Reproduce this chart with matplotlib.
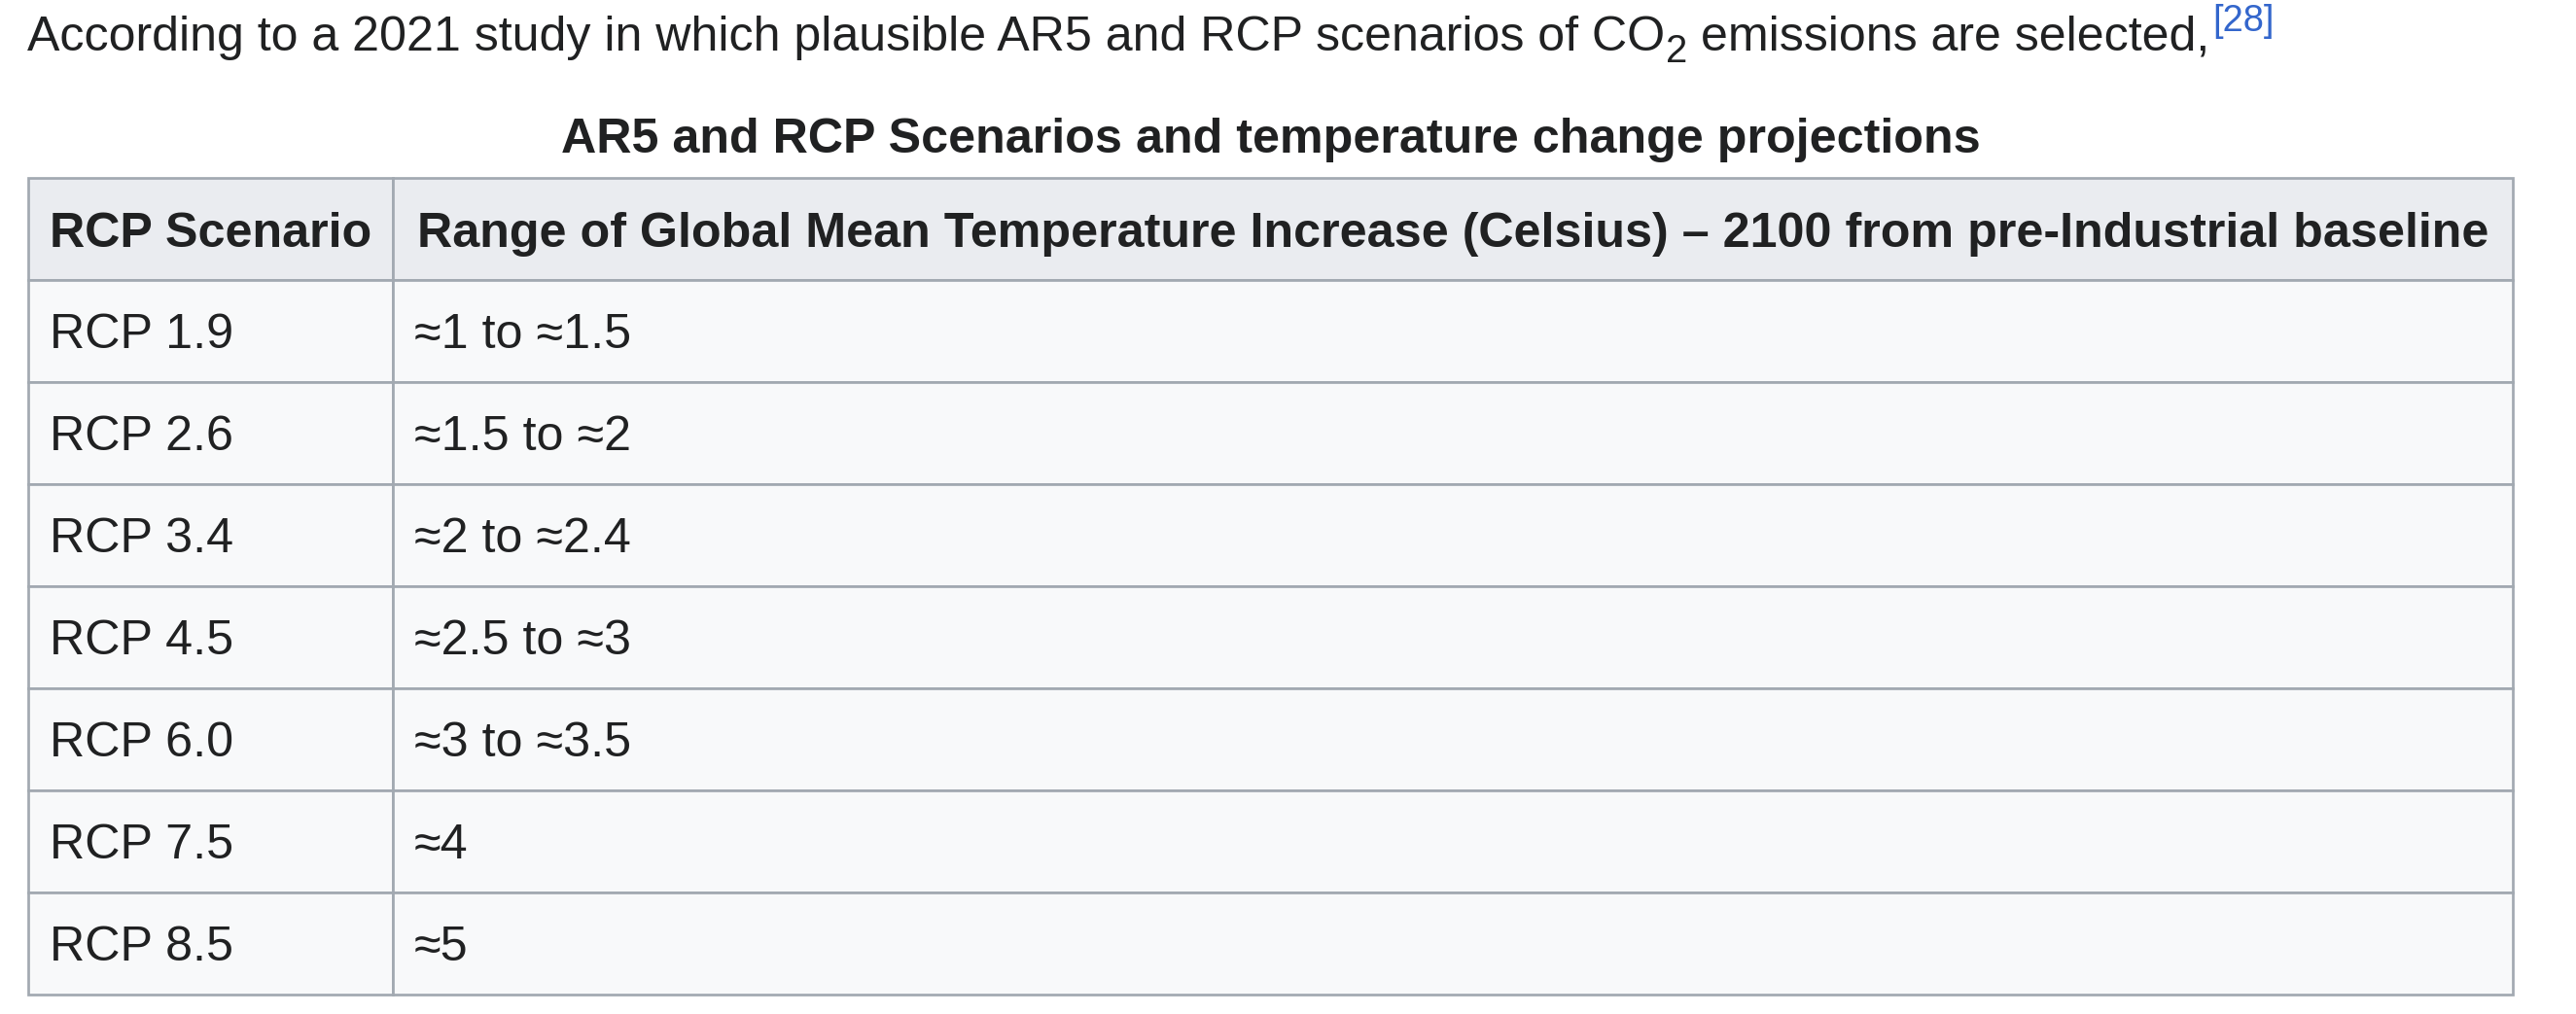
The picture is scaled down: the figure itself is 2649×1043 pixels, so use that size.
import matplotlib

matplotlib.use("Agg")
import matplotlib.pyplot as plt
from matplotlib.patches import Rectangle

# table content
headers = [
    "RCP Scenario",
    "Range of Global Mean Temperature Increase (Celsius) \u2013 2100 from pre-Industrial baseline",
]
scenarios = ["RCP 1.9", "RCP 2.6", "RCP 3.4", "RCP 4.5", "RCP 6.0", "RCP 7.5", "RCP 8.5"]
ranges = [
    "\u22481 to \u22481.5",
    "\u22481.5 to \u22482",
    "\u22482 to \u22482.4",
    "\u22482.5 to \u22483",
    "\u22483 to \u22483.5",
    "\u22484",
    "\u22485",
]
caption = "AR5 and RCP Scenarios and temperature change projections"
intro_main = "According to a 2021 study in which plausible AR5 and RCP scenarios of CO"
intro_sub = "2"
intro_rest = "emissions are selected,"
intro_ref = "[28]"

W, H = 2649, 1043
TEXT = "#202122"
HEAD_BG = "#eaecf0"
CELL_BG = "#f8f9fa"
BORDER = "#a2a9b1"
LINK = "#3366cc"
FONT = "Liberation Sans"

fig = plt.figure(figsize=(W / 100, H / 100), dpi=100, facecolor="white")
ax = fig.add_axes([0, 0, 1, 1])
ax.set_xlim(0, W)
ax.set_ylim(H, 0)
ax.axis("off")
renderer = fig.canvas.get_renderer()


def fit_size(s, target_px, weight="normal"):
    # font size (pt) that makes s about target_px wide
    t = ax.text(0, 0, s, fontsize=36, family=FONT, fontweight=weight)
    w = t.get_window_extent(renderer).width
    t.remove()
    return 36 * target_px / w


def right_edge(t):
    return t.get_window_extent(renderer).x1


fs_intro = fit_size(intro_main + intro_sub + " " + intro_rest, 2252)
fs_table = fit_size(headers[1], 2130, "bold")

# intro sentence with subscript and reference
t = ax.text(28, 52, intro_main, fontsize=fs_intro, family=FONT, color=TEXT, va="baseline")
t = ax.text(right_edge(t) + 1, 64, intro_sub, fontsize=fs_intro * 0.8, family=FONT,
            color=TEXT, va="baseline")
t = ax.text(right_edge(t) + 14, 52, intro_rest, fontsize=fs_intro, family=FONT,
            color=TEXT, va="baseline")
ax.text(right_edge(t) + 3, 32, intro_ref, fontsize=fs_intro * 0.76, family=FONT,
        color=LINK, va="baseline")

# table geometry
left, right, top = 29, 2584, 183
col_split = 404
row_h = 105
col_x = [left, col_split, right]

ax.text((left + right) / 2, 157, caption, fontsize=fs_table, family=FONT,
        fontweight="bold", color=TEXT, ha="center", va="baseline")

rows = [headers] + [[s, r] for s, r in zip(scenarios, ranges)]
for i, row in enumerate(rows):
    y0 = top + i * row_h
    for j, val in enumerate(row):
        x0, x1 = col_x[j], col_x[j + 1]
        ax.add_patch(Rectangle((x0, y0), x1 - x0, row_h,
                               facecolor=HEAD_BG if i == 0 else CELL_BG,
                               edgecolor=BORDER, lw=1.95, zorder=1))
        if i == 0:
            ax.text((x0 + x1) / 2, y0 + row_h / 2 + 18.5, val, fontsize=fs_table,
                    family=FONT, fontweight="bold", color=TEXT,
                    ha="center", va="baseline", zorder=3)
        else:
            ax.text(x0 + 22, y0 + row_h / 2 + 17.5, val, fontsize=fs_table,
                    family=FONT, color=TEXT, ha="left", va="baseline", zorder=3)

fig.savefig("out.png", dpi=100, facecolor="white")
